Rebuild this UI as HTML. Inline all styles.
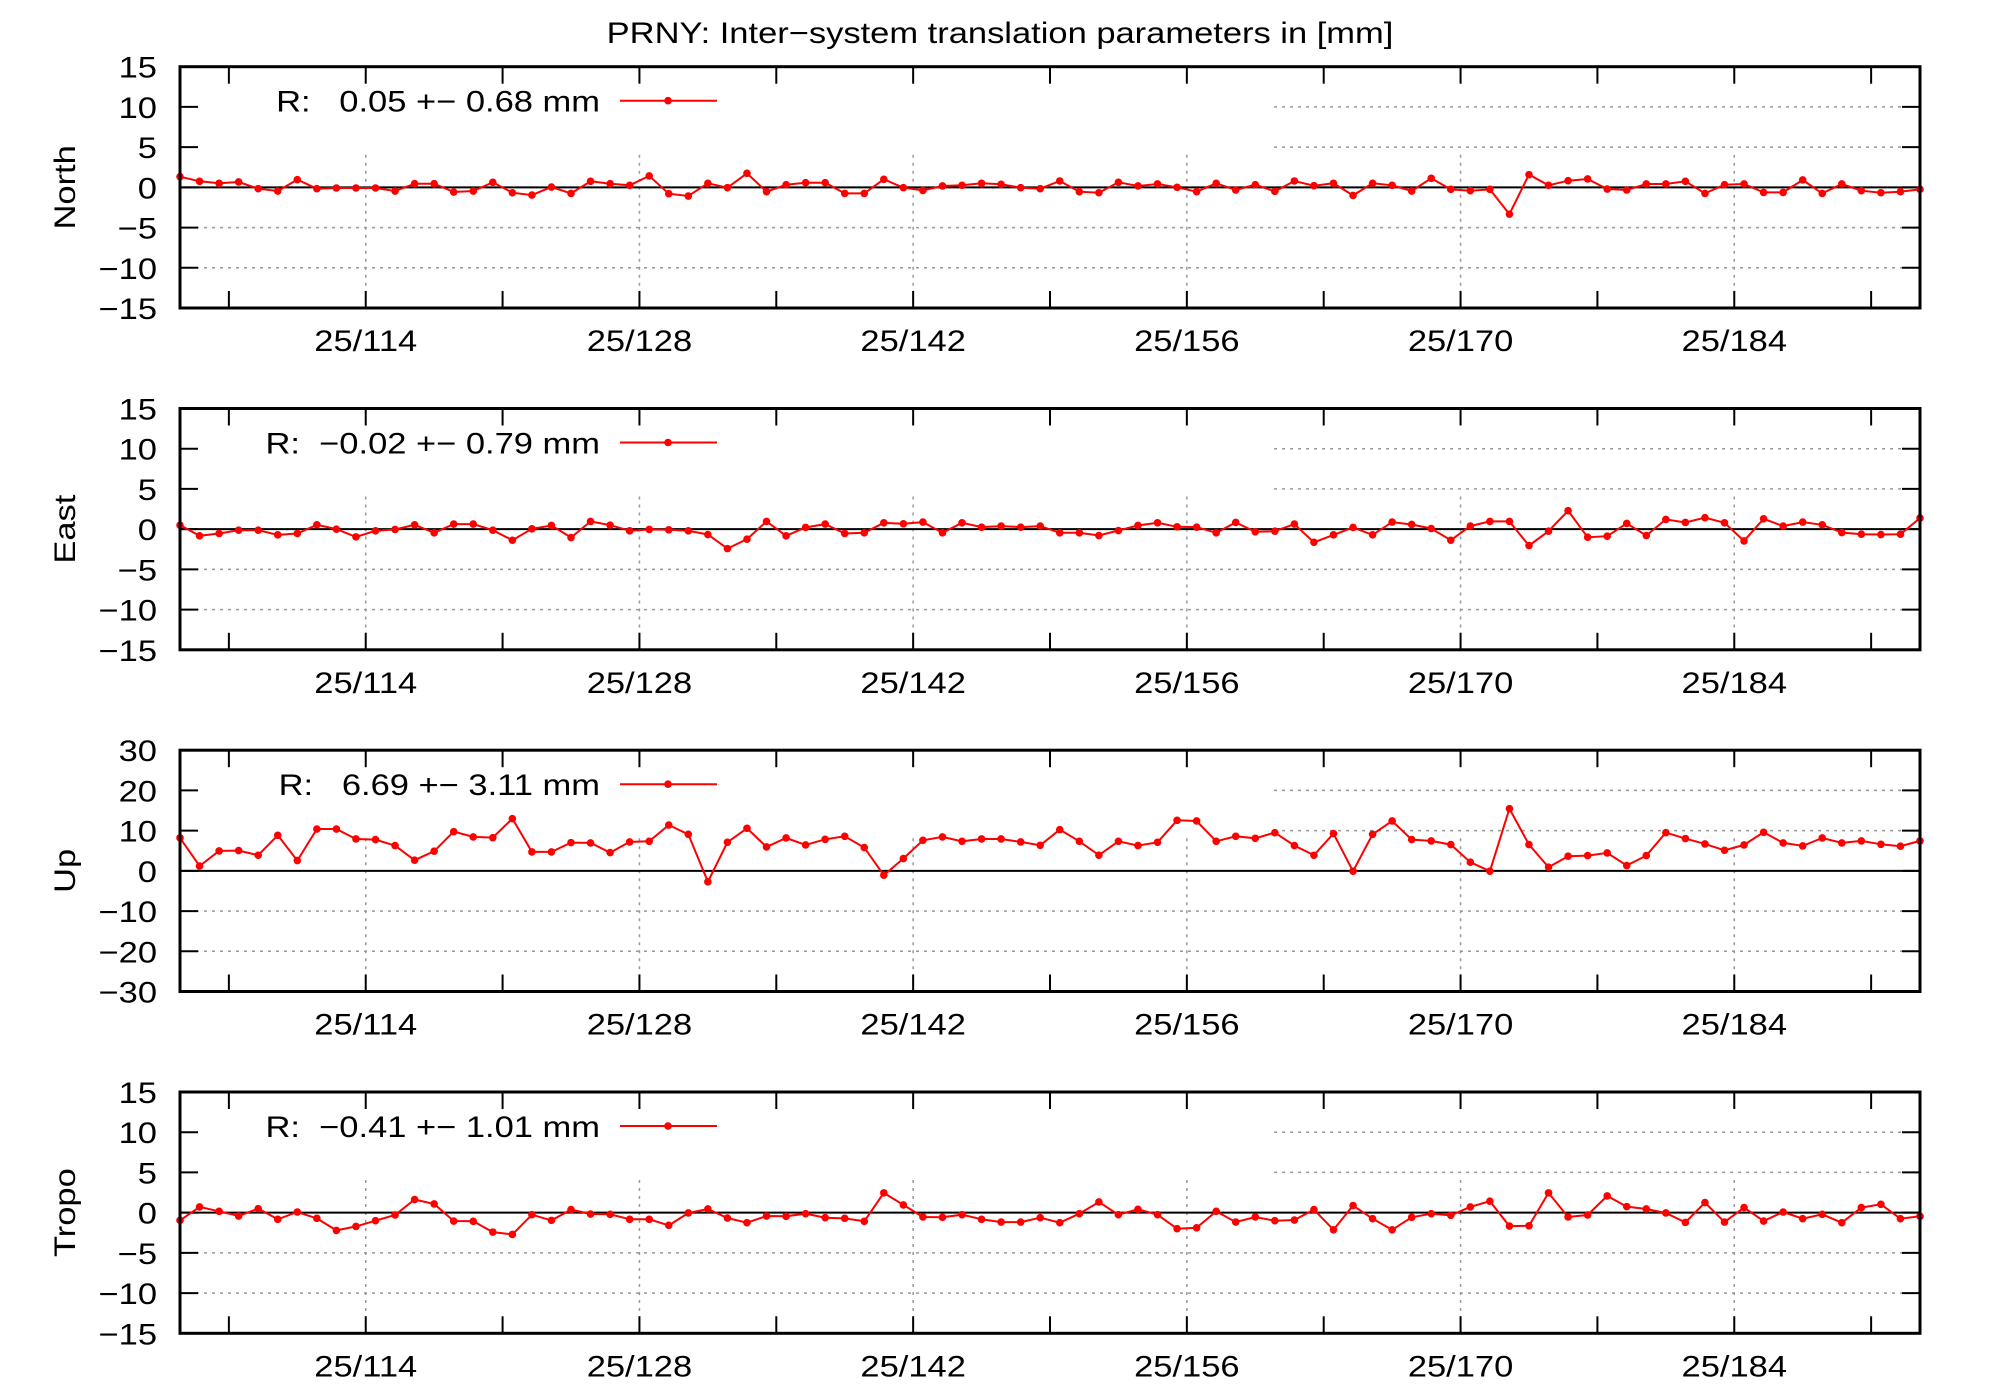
<!DOCTYPE html>
<html><head><meta charset="utf-8">
<style>
html,body{margin:0;padding:0;background:#fff;}
svg{display:block;font-family:"Liberation Sans",Arial,sans-serif;}
</style></head>
<body>
<svg id="chart" xmlns="http://www.w3.org/2000/svg" width="2000" height="1400" viewBox="0 0 2000 1400">
<rect x="0" y="0" width="2000" height="1400" fill="#fff"/>
<g transform="translate(1000,43) scale(1.15,1)"><text x="0" y="0" font-size="30" text-anchor="middle">PRNY: Inter−system translation parameters in [mm]</text></g>
</svg>
<script>
const days = [];
for (let i = 0; i < 90; i++) days.push(104.5 + i);
const xTickDays = [114, 128, 142, 156, 170, 184];
const xTickLabels = ["25/114", "25/128", "25/142", "25/156", "25/170", "25/184"];
const xMinorDays = [107, 121, 135, 149, 163, 177, 191];
const panelNames = ["North", "East", "Up", "Tropo"];
const legendLabels = ["R:   0.05 +− 0.68 mm", "R:  −0.02 +− 0.79 mm", "R:   6.69 +− 3.11 mm", "R:  −0.41 +− 1.01 mm"];
const yTicksSmall = [15, 10, 5, 0, -5, -10, -15];
const yTicksUp = [30, 20, 10, 0, -10, -20, -30];
const northValues = [1.33,0.75,0.5,0.67,-0.17,-0.46,0.96,-0.17,-0.08,-0.08,-0.08,-0.46,0.46,0.46,-0.58,-0.46,0.63,-0.67,-0.96,0.04,-0.75,0.75,0.46,0.25,1.42,-0.79,-1.08,0.5,-0.04,1.75,-0.54,0.33,0.58,0.58,-0.75,-0.75,1.0,-0.04,-0.38,0.17,0.25,0.5,0.38,-0.04,-0.17,0.79,
-0.54,-0.67,0.63,0.17,0.42,0,-0.54,0.5,-0.33,0.33,-0.5,0.79,0.21,0.5,-1.0,0.5,0.25,-0.46,1.13,-0.25,-0.42,-0.25,-3.33,1.58,0.25,0.83,1.04,-0.21,-0.33,0.42,0.42,0.75,-0.75,0.33,0.42,-0.63,-0.63,0.92,-0.75,0.42,-0.42,-0.67,-0.54,-0.25];
const eastValues = [0.5,-0.83,-0.54,-0.13,-0.13,-0.71,-0.54,0.54,0,-0.96,-0.21,-0.04,0.54,-0.46,0.63,0.63,-0.13,-1.38,0.04,0.46,-1.04,0.96,0.5,-0.21,-0.04,-0.08,-0.21,-0.67,-2.42,-1.25,0.96,-0.83,0.21,0.63,-0.54,-0.46,0.79,0.67,0.88,-0.46,0.79,0.25,0.38,0.25,0.38,-0.46,
-0.46,-0.79,-0.17,0.46,0.79,0.29,0.25,-0.46,0.83,-0.33,-0.25,0.63,-1.63,-0.71,0.21,-0.71,0.88,0.58,0.08,-1.38,0.38,0.96,0.96,-2.04,-0.25,2.29,-1.0,-0.88,0.71,-0.79,1.21,0.83,1.42,0.79,-1.46,1.29,0.38,0.88,0.54,-0.42,-0.63,-0.67,-0.63,1.38];
const upValues = [8.2,1.2,4.96,5.04,3.88,8.84,2.56,10.4,10.4,7.93,7.77,6.28,2.64,4.88,9.75,8.43,8.26,12.98,4.71,4.71,7.02,6.94,4.55,7.19,7.36,11.4,9.09,-2.73,7.11,10.58,5.95,8.18,6.45,7.85,8.6,5.79,-1.07,3.06,7.6,8.43,7.36,7.93,7.93,7.19,6.36,10.25,
7.36,3.88,7.36,6.28,7.11,12.56,12.4,7.36,8.6,8.1,9.5,6.28,3.88,9.26,-0.08,9.09,12.4,7.77,7.44,6.53,2.15,-0.08,15.45,6.53,0.91,3.64,3.8,4.46,1.32,3.8,9.5,8.02,6.69,5.12,6.45,9.59,6.94,6.2,8.18,6.94,7.44,6.61,6.12,7.44];
const tropoValues = [-0.96,0.71,0.17,-0.42,0.5,-0.83,0.08,-0.71,-2.21,-1.71,-1.0,-0.29,1.63,1.08,-1.04,-1.08,-2.42,-2.71,-0.25,-0.96,0.38,-0.17,-0.21,-0.83,-0.83,-1.58,-0.04,0.46,-0.67,-1.25,-0.42,-0.46,-0.13,-0.63,-0.71,-1.08,2.46,0.96,-0.54,-0.58,-0.25,-0.83,-1.17,-1.17,-0.63,-1.25,
-0.13,1.33,-0.25,0.42,-0.25,-2.0,-1.88,0.17,-1.17,-0.54,-1.0,-0.92,0.38,-2.13,0.88,-0.75,-2.13,-0.58,-0.13,-0.33,0.71,1.42,-1.67,-1.63,2.46,-0.54,-0.29,2.08,0.75,0.46,-0.04,-1.21,1.25,-1.17,0.63,-1.04,0.08,-0.75,-0.21,-1.25,0.63,1.04,-0.75,-0.46];

const NS = "http://www.w3.org/2000/svg";
const svg = document.getElementById("chart");
const L = 180, R = 1920, H = 241.3;
const tops = [66.7, 408.5, 750.2, 1092];
const xMin = 104.5, xMax = 193.5;
const SX = 1.15, FS = 30;
function xScale(d){ return L + (d - xMin) / (xMax - xMin) * (R - L); }
function mk(tag, attrs, parent){
  const e = document.createElementNS(NS, tag);
  for (const k in attrs) e.setAttribute(k, attrs[k]);
  (parent || svg).appendChild(e);
  return e;
}
function stretchedText(parent, x, y, anchor, extra){
  const w = mk("g", {transform: "translate(" + x + "," + y + ") scale(" + SX + ",1)" + (extra || "")}, parent);
  return mk("text", {x: 0, y: 0, "font-size": FS, "text-anchor": anchor}, w);
}
const allValues = [northValues, eastValues, upValues, tropoValues];
const panelKeys = ["north", "east", "up", "tropo"];
for (let p = 0; p < 4; p++) {
  const top = tops[p], bot = top + H;
  const ticks = p === 2 ? yTicksUp : yTicksSmall;
  const yMax = ticks[0], yMin = ticks[ticks.length - 1];
  const yScale = v => bot - (v - yMin) / (yMax - yMin) * H;
  const g = mk("g", {});
  
  
  const legendRight = 1274, legendBottom = top + 86;
  ticks.forEach(t => {
    if (t === yMax || t === yMin || t === 0) return;
    const y = yScale(t);
    const x0 = y < legendBottom ? legendRight : L;
    const gl = mk("line", {x1: x0, x2: R, y1: y, y2: y, stroke: "#999", "stroke-width": 1.5, "stroke-dasharray": "3,5"}, g);
    
    
  });
  xTickDays.forEach(d => {
    const x = xScale(d);
    const gl = mk("line", {x1: x, x2: x, y1: legendBottom + 2, y2: bot, stroke: "#999", "stroke-width": 1.5, "stroke-dasharray": "3,5"}, g);
    
    
  });
  const zl = mk("line", {x1: L, x2: R, y1: yScale(0), y2: yScale(0), stroke: "#000", "stroke-width": 2}, g);
  
  
  ticks.forEach(t => {
    const y = yScale(t);
    mk("line", {x1: L, x2: L + 18, y1: y, y2: y, stroke: "#000", "stroke-width": 2}, g);
    mk("line", {x1: R - 18, x2: R, y1: y, y2: y, stroke: "#000", "stroke-width": 2}, g);
    const tl = stretchedText(g, 157, y + 11, "end");
    tl.textContent = t < 0 ? "−" + Math.abs(t) : String(t);
    
    
  });
  xTickDays.concat(xMinorDays).forEach(d => {
    const x = xScale(d);
    mk("line", {x1: x, x2: x, y1: bot, y2: bot - 17, stroke: "#000", "stroke-width": 2}, g);
    mk("line", {x1: x, x2: x, y1: top, y2: top + 17, stroke: "#000", "stroke-width": 2}, g);
  });
  xTickDays.forEach((d, i) => {
    const tl = stretchedText(g, xScale(d), bot + 43, "middle");
    tl.textContent = xTickLabels[i];
    
    
  });
  const cy = (top + bot) / 2;
  const aw = mk("g", {transform: "translate(67," + cy + ") scale(1,1.0) rotate(-90) scale(" + SX + ",1)"}, g);
  const at = mk("text", {x: 0, y: 0, "font-size": FS, "text-anchor": "middle", "dominant-baseline": "middle"}, aw);
  at.textContent = panelNames[p];
  
  
  const vals = allValues[p];
  const pts = vals.map((v, i) => xScale(days[i]).toFixed(1) + "," + yScale(v).toFixed(1)).join(" ");
  const pl = mk("polyline", {points: pts, fill: "none", stroke: "#f00", "stroke-width": 2}, g);
  
  
  vals.forEach((v, i) => {
    const c = mk("circle", {cx: xScale(days[i]), cy: yScale(v), r: 3.8, fill: "#f00"}, g);
    
    
  });
  const lt = stretchedText(g, 600, top + 45, "end");
  lt.style.whiteSpace = "pre";
  lt.textContent = legendLabels[p];
  
  
  const ll = mk("line", {x1: 620, x2: 717, y1: top + 34, y2: top + 34, stroke: "#f00", "stroke-width": 2}, g);
  
  
  const ld = mk("circle", {cx: 668, cy: top + 34, r: 3.8, fill: "#f00"}, g);
  
  
  const b = mk("rect", {x: L, y: top, width: R - L, height: H, fill: "none", stroke: "#000", "stroke-width": 3}, g);
  
  
}
</script>
</body></html>
